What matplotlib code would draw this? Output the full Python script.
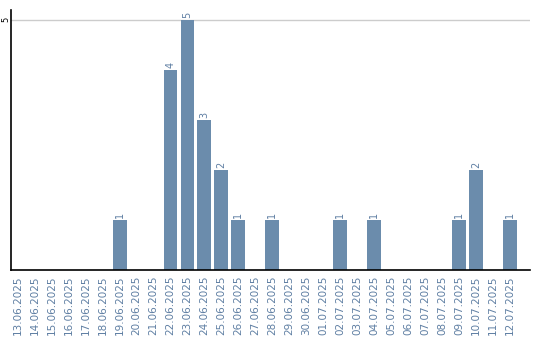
import matplotlib
matplotlib.use("Agg")
import matplotlib.pyplot as plt

dates = ["13.06.2025", "14.06.2025", "15.06.2025", "16.06.2025", "17.06.2025",
         "18.06.2025", "19.06.2025", "20.06.2025", "21.06.2025", "22.06.2025",
         "23.06.2025", "24.06.2025", "25.06.2025", "26.06.2025", "27.06.2025",
         "28.06.2025", "29.06.2025", "30.06.2025", "01.07.2025", "02.07.2025",
         "03.07.2025", "04.07.2025", "05.07.2025", "06.07.2025", "07.07.2025",
         "08.07.2025", "09.07.2025", "10.07.2025", "11.07.2025", "12.07.2025"]
counts = [0, 0, 0, 0, 0, 0, 1, 0, 0, 4, 5, 3, 2, 1, 0,
          1, 0, 0, 0, 1, 0, 1, 0, 0, 0, 0, 1, 2, 0, 1]

bar_color = "#6b8cac"
text_color = "#5f7fa3"

fig = plt.figure(figsize=(5.4, 3.4), dpi=100)
ax = fig.add_axes([0.021, 0.206, 0.961, 0.765])

x = list(range(len(dates)))
ax.bar(x, counts, width=0.82, color=bar_color, zorder=2)
for xi, c in zip(x, counts):
    if c > 0:
        ax.text(xi, c + 0.04, str(c), rotation=90, ha="center", va="bottom",
                fontsize=7, color=text_color)

ax.set_xlim(-0.38, 30.2)
ax.set_ylim(0, 5.2)
ax.set_yticks([5])
ax.set_yticklabels(["5"], rotation=90, va="center", fontsize=6)
ax.tick_params(axis="y", length=0, pad=1)
ax.axhline(5, color="#cccccc", linewidth=1, zorder=1)

ax.set_xticks(x)
ax.set_xticklabels(dates, rotation=90, fontsize=7.5, color=text_color)
ax.tick_params(axis="x", length=0, pad=4)

for s in ["top", "right"]:
    ax.spines[s].set_visible(False)
ax.spines["left"].set_linewidth(1.2)
ax.spines["bottom"].set_linewidth(1.2)

fig.savefig("out.png", dpi=100)
